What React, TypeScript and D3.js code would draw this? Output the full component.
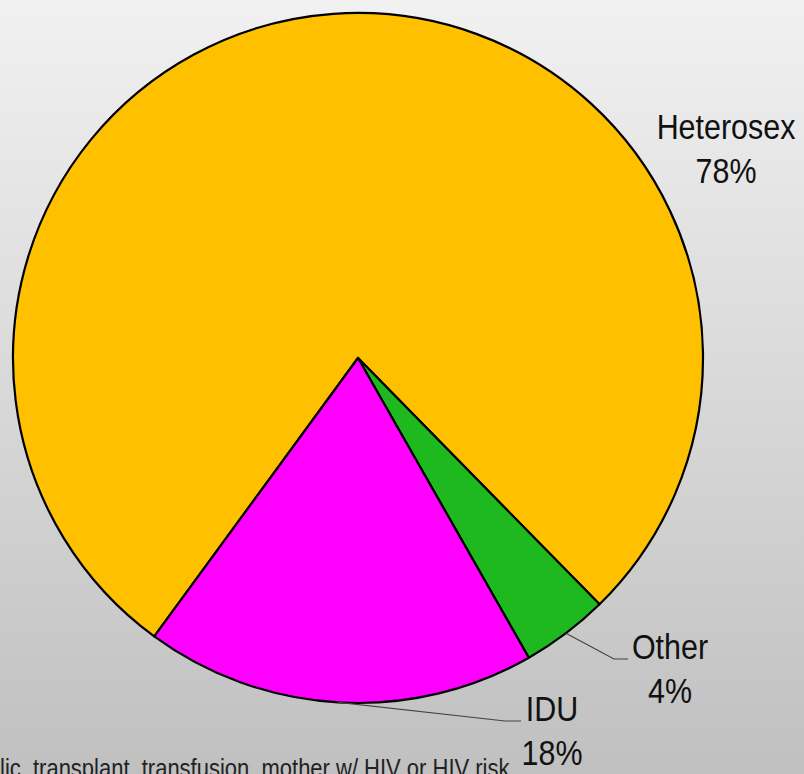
import React from 'react';
import * as d3 from 'd3';

const categories = ['Heterosex', 'Other', 'IDU'];
const shares = [77.6, 4.1, 18.3];
const shownLabels = ['78%', '4%', '18%'];
const sliceColors = ['#FFC000', '#1EB91E', '#FF00FF'];
const footnote = 'lic, transplant, transfusion, mother w/ HIV or HIV risk';

const W = 804;
const H = 774;
const cx = 358;
const cy = 358;
const R = 345;
const startDeg = 216.2;

// label anchor (center x, first baseline y) and leader elbow per slice
const labelPos = [
  { x: 726, y: 139, leader: null },
  { x: 670, y: 659, leader: { ex: 614, ey: 659, hx: 628 } },
  { x: 552, y: 721, leader: { ex: 505, ey: 721, hx: 521 } },
];

const App = () => {
  const pie = d3
    .pie<number>()
    .sort(null)
    .value(d => d)
    .startAngle((startDeg * Math.PI) / 180)
    .endAngle((startDeg * Math.PI) / 180 + 2 * Math.PI);
  const arcs = pie(shares);
  const arc = d3.arc<any>().innerRadius(0).outerRadius(R);

  return (
    <svg
      width={W}
      height={H}
      style={{ position: 'absolute', left: 0, top: 0 }}
      fontFamily="'Liberation Sans', Arial, sans-serif">
      <defs>
        <linearGradient id="bg" x1="0" y1="0" x2="0" y2="1">
          <stop offset="0%" stopColor="#f1f1f1" />
          <stop offset="100%" stopColor="#c0c0c0" />
        </linearGradient>
      </defs>
      <rect width={W} height={H} fill="url(#bg)" />
      <g transform={`translate(${cx},${cy})`}>
        {arcs.map((a, i) => (
          <path
            key={`slice${i}`}
            d={arc(a) as string}
            fill={sliceColors[i]}
            stroke="#000"
            strokeWidth={2.2}
            strokeLinejoin="round"
          />
        ))}
      </g>
      {arcs.map((a, i) => {
        const lp = labelPos[i];
        if (!lp.leader) return null;
        const mid = (a.startAngle + a.endAngle) / 2;
        const sx = cx + R * Math.sin(mid);
        const sy = cy - R * Math.cos(mid);
        return (
          <polyline
            key={`leader${i}`}
            points={`${sx},${sy} ${lp.leader.ex},${lp.leader.ey} ${lp.leader.hx},${lp.leader.ey}`}
            fill="none"
            stroke="#444"
            strokeWidth={1.2}
          />
        );
      })}
      {categories.map((c, i) => {
        const lp = labelPos[i];
        return (
          <g key={`label${i}`} transform={`translate(${lp.x},${lp.y}) scale(0.87,1)`}>
            <text textAnchor="middle" fontSize={35} fill="#111">
              <tspan x={0} y={0}>{c}</tspan>
              <tspan x={0} y={44}>{shownLabels[i]}</tspan>
            </text>
          </g>
        );
      })}
      <g transform={`translate(0,777) scale(0.88,1)`}>
        <text fontSize={25} fill="#222">{footnote}</text>
      </g>
    </svg>
  );
};

export default App;
